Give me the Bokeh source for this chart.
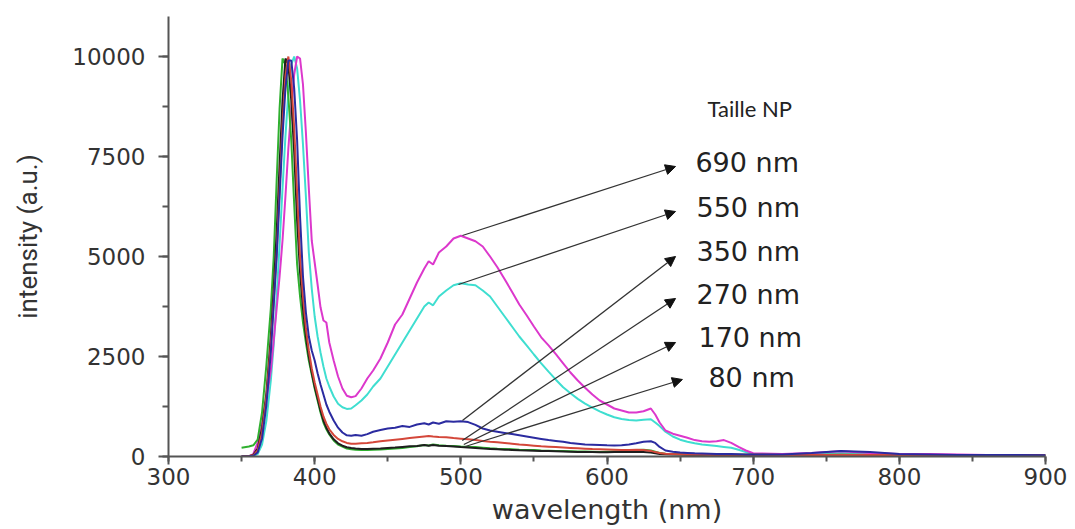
from bokeh.plotting import figure
from bokeh.models import Range1d, SingleIntervalTicker, Arrow, NormalHead, ColumnDataSource
from bokeh.core.properties import value
from bokeh.embed import file_html
from bokeh.resources import INLINE

# ---------------- data ----------------
wavelength = [350, 355, 358, 361, 364, 367, 370, 372, 374, 376, 378, 380, 382, 384, 386, 388, 390, 392, 394, 396, 398, 400, 402, 404, 406, 408, 410,
              413, 416, 419, 422, 425, 428, 432, 436, 440,
              445, 450, 455, 460, 465, 470, 475, 478, 481, 485, 490, 495, 500,
              505, 510, 515, 520, 525, 530, 535, 540, 545, 550, 555, 560, 565, 570, 575, 580, 585, 590, 595, 600, 605, 610, 615, 620, 625, 630,
              633, 636,
              640, 645, 650, 655, 660, 665, 670, 675, 680, 685, 690, 695, 700,
              720, 740, 760, 780, 800, 820, 840, 860, 880, 900]

np80 = [220, 250, 280, 420, 1100, 2300, 3700, 5000, 6900, 8700, 9950, 9800, 9000, 7900, 6300, 4800, 4000, 3350, 2850, 2400, 2050, 1700, 1400, 1100, 850, 680, 550,
        400, 300, 250, 200, 180, 170, 160, 165, 170,
        175, 185, 200, 215, 240, 255, 290, 275, 300, 280, 270, 265, 250,
        240, 235, 220, 205, 195, 190, 180, 170, 165, 160, 150, 145, 140, 135, 130, 125, 125, 120, 115, 120, 125, 130, 150, 165, 170, 150,
        120, 90,
        70, 60, 55, 50, 50, 50, 50, 45, 45, 45, 45, 45, 45,
        40, 40, 45, 40, 35, 35, 30, 30, 30, 30]

np170 = [0, 10, 40, 200, 700, 1600, 3000, 4200, 5600, 7300, 8900, 9950, 9800, 8900, 7600, 5900, 4600, 3700, 3000, 2500, 2100, 1750, 1450, 1150, 900, 720, 580,
         430, 330, 270, 230, 210, 200, 190, 190, 195,
         200, 215, 225, 240, 255, 265, 285, 270, 290, 270, 260, 250, 235,
         225, 215, 200, 190, 180, 170, 165, 155, 150, 145, 140, 135, 130, 125, 120, 115, 110, 110, 105, 105, 110, 110, 115, 120, 115, 100,
         80, 65,
         55, 50, 50, 45, 45, 45, 45, 40, 40, 40, 40, 40, 40,
         35, 35, 40, 35, 30, 30, 30, 25, 25, 25]

np270 = [0, 10, 30, 150, 600, 1500, 2800, 3900, 5100, 6700, 8300, 9500, 10000, 9400, 8200, 6600, 5000, 4000, 3200, 2650, 2200, 1850, 1550, 1250, 1000, 820, 680,
         540, 440, 380, 340, 320, 320, 330, 340, 355,
         380, 400, 420, 440, 460, 480, 500, 510, 500, 490, 480, 460, 445,
         430, 410, 390, 370, 355, 340, 320, 300, 285, 270, 255, 245, 235, 225, 215, 205, 195, 185, 180, 175, 170, 165, 165, 170, 160, 140,
         110, 90,
         70, 60, 55, 50, 50, 50, 45, 45, 45, 45, 45, 45, 45,
         40, 40, 45, 40, 35, 35, 30, 30, 30, 30]

np350 = [0, 5, 20, 100, 450, 1300, 2600, 3800, 5000, 6500, 8000, 9200, 9900, 9900, 9200, 7900, 6000, 4500, 3600, 3000, 2650, 2400, 2080, 1800, 1550, 1300, 1120,
         900, 720, 600, 530, 520, 540, 520, 560, 620,
         660, 700, 720, 760, 740, 800, 830, 800, 850, 820, 880, 870, 880,
         860, 790, 700, 650, 620, 590, 560, 530, 500, 470, 440, 410, 390, 370, 340, 320, 300, 295, 290, 280, 275, 280, 300, 330, 370, 380,
         340, 240,
         150, 120, 100, 90, 80, 75, 70, 65, 60, 60, 55, 50, 50,
         50, 90, 140, 110, 60, 50, 40, 40, 35, 30]

np550 = [0, 0, 10, 60, 300, 900, 1900, 2800, 4000, 5300, 6700, 8000, 9100, 9800, 10000, 9700, 8900, 7800, 6500, 5100, 4200, 3500, 3000, 2600, 2250, 1950, 1750,
         1500, 1320, 1230, 1190, 1200, 1280, 1400, 1550, 1750,
         1950, 2250, 2550, 2850, 3150, 3450, 3750, 3850, 3780, 4000, 4150, 4280, 4330,
         4300, 4280, 4150, 4000, 3750, 3500, 3250, 3000, 2780, 2550, 2330, 2120, 1920, 1730, 1580, 1440, 1320, 1220, 1130, 1050, 980, 940, 910, 900, 920, 930,
         850, 760,
         620, 500, 420, 370, 330, 300, 280, 260, 240, 220, 170, 110, 60,
         50, 60, 80, 60, 40, 40, 35, 30, 30, 30]

np690 = [0, 0, 60, 350, 800, 1450, 2150, 2900, 3700, 4500, 5400, 6500, 7700, 8700, 9550, 10000, 9950, 9300, 8100, 6700, 5400, 4850, 4300, 3730, 3400, 3350, 2850,
         2400, 2000, 1700, 1520, 1480, 1510, 1700, 1950, 2150,
         2450, 2850, 3300, 3550, 3950, 4350, 4700, 4880, 4800, 5100, 5250, 5450, 5520,
         5450, 5380, 5250, 5000, 4730, 4430, 4120, 3800, 3530, 3250, 2980, 2780, 2560, 2330, 2100, 1900, 1720, 1550, 1400, 1300, 1200, 1150, 1100, 1100, 1130, 1200,
         1050, 850,
         650, 570, 520, 470, 410, 380, 370, 380, 410, 340, 240, 150, 80,
         60, 90, 130, 90, 60, 60, 50, 40, 35, 30]

series_names = ["550 nm", "690 nm", "80 nm", "170 nm", "270 nm", "350 nm"]
series_values = [np550, np690, np80, np170, np270, np350]
series_colors = ["#3fded0", "#dc38cc", "#2fb02f", "#1e1e1e", "#d4473a", "#2b2ba0"]

x_ticks_interval = 100
y_ticks_interval = 2500

# annotation labels (size legend) and arrows
legend_title = "Taille NP"
legend_title_x = [668.8]
legend_title_y = [8700]
label_text = ["690 nm", "550 nm", "350 nm", "270 nm", "170 nm", "80 nm"]
label_x = [660.5, 661.2, 661.2, 661.2, 662.6, 669.4]
label_y = [7350, 6225, 5125, 4050, 2975, 1975]
arrow_x0 = [501.1, 498.4, 501.1, 501.0, 502.0, 503.0]
arrow_y0 = [5525, 4300, 900, 400, 300, 250]
arrow_x1 = [646.9, 646.9, 646.9, 646.9, 646.9, 651.6]
arrow_y1 = [7250, 6125, 5000, 3950, 2850, 1925]

# ---------------- figure ----------------
p = figure(frame_width=877, frame_height=440,
           x_range=Range1d(300, 900), y_range=Range1d(0, 11000),
           output_backend="svg", toolbar_location=None,
           min_border_left=168, min_border_right=22, min_border_top=16, min_border_bottom=40)
p.outline_line_color = None
p.xgrid.visible = False
p.ygrid.visible = False
p.background_fill_color = "white"
p.border_fill_color = "white"

for name, vals, col in zip(series_names, series_values, series_colors):
    src = ColumnDataSource(dict(x=wavelength, y=vals))
    p.line("x", "y", source=src, line_color=col, line_width=2)

for x0, y0, x1, y1 in zip(arrow_x0, arrow_y0, arrow_x1, arrow_y1):
    p.add_layout(Arrow(x_start=x0, y_start=y0, x_end=x1, y_end=y1,
                       line_color="#333333", line_width=1.3,
                       end=NormalHead(size=10, fill_color="#111111", line_color="#111111")))

p.text(x=label_x, y=label_y, text=label_text, text_font=value("DejaVu Sans"),
       text_font_size=value("27px"), text_baseline="middle", text_align="left", text_color="#222222")
p.text(x=legend_title_x, y=legend_title_y, text=[legend_title], text_font=value("Lato"),
       text_font_size=value("22px"), text_baseline="middle", text_align="left", text_color="#222222")

p.xaxis.ticker = SingleIntervalTicker(interval=x_ticks_interval, num_minor_ticks=2)
p.yaxis.ticker = SingleIntervalTicker(interval=y_ticks_interval, num_minor_ticks=2)

for ax in (p.xaxis[0], p.yaxis[0]):
    ax.axis_line_color = "#555555"
    ax.axis_line_width = 2
    ax.major_tick_line_color = "#555555"
    ax.major_tick_line_width = 2
    ax.minor_tick_line_color = "#555555"
    ax.minor_tick_line_width = 2
    ax.major_tick_in = 0
    ax.minor_tick_in = 0
    ax.major_label_text_font = "DejaVu Sans"
    ax.major_label_text_font_size = "23px"
    ax.major_label_text_color = "#333333"
    ax.axis_label_text_font_style = "normal"
    ax.axis_label_text_color = "#333333"

p.xaxis.major_tick_out = 8
p.xaxis.minor_tick_out = 5
p.xaxis.major_label_standoff = 3
p.xaxis.axis_label = "wavelength (nm)"
p.xaxis.axis_label_text_font = "DejaVu Sans"
p.xaxis.axis_label_text_font_size = "27px"
p.xaxis.axis_label_standoff = 6

p.yaxis.major_tick_out = 10
p.yaxis.minor_tick_out = 6
p.yaxis.major_label_standoff = 13
p.yaxis.axis_label = "intensity (a.u.)"
p.yaxis.axis_label_text_font = "Roboto"
p.yaxis.axis_label_text_font_size = "26px"
p.yaxis.axis_label_standoff = 26

open("out.html", "w").write(file_html(p, INLINE))
